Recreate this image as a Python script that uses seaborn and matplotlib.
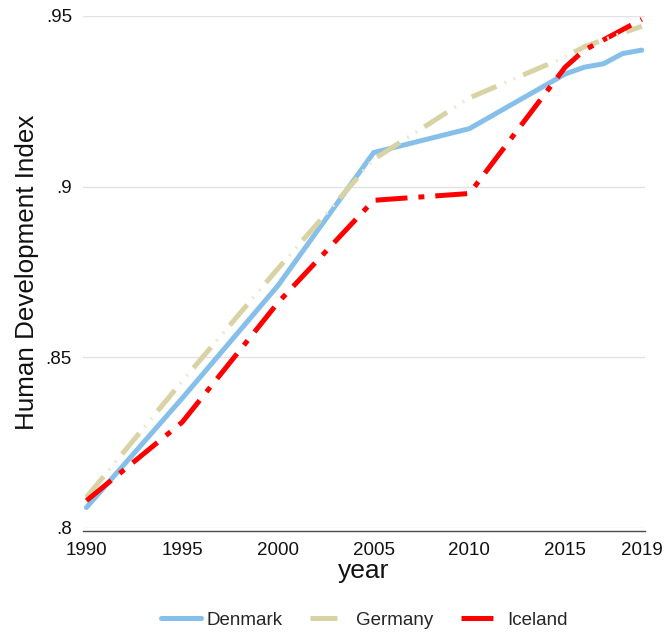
import matplotlib
matplotlib.use("Agg")
import matplotlib.pyplot as plt
import seaborn as sns
import pandas as pd

# ---- data ----
years = [1990, 1995, 2000, 2005, 2010, 2015, 2016, 2017, 2018, 2019]
denmark = [0.806, 0.838, 0.871, 0.910, 0.917, 0.933, 0.935, 0.936, 0.939, 0.940]
germany = [0.809, 0.843, 0.876, 0.908, 0.926, 0.938, 0.941, 0.943, 0.945, 0.947]
iceland = [0.808, 0.831, 0.866, 0.896, 0.898, 0.935, 0.940, 0.943, 0.946, 0.949]
countries = ["Denmark", "Germany", "Iceland"]
yticks = [0.80, 0.85, 0.90, 0.95]
ytick_labels = [".8", ".85", ".9", ".95"]
xticks = [1990, 1995, 2000, 2005, 2010, 2015, 2019]

df = pd.DataFrame({
    "year": years * 3,
    "hdi": denmark + germany + iceland,
    "country": [c for c in countries for _ in years],
})

sns.set_style("white")
plt.rcParams["font.family"] = ["Liberation Sans", "DejaVu Sans"]
plt.rcParams["lines.scale_dashes"] = False

palette = {"Denmark": "#86BFE9", "Germany": "#D8D2A5", "Iceland": "#FF0000"}
dashes = {"Denmark": "", "Germany": (19.4, 20.9), "Iceland": (23.0, 7.9, 4.3, 7.9)}

fig = plt.figure(figsize=(6.64, 6.32), dpi=100)
ax = fig.add_axes([83 / 664, 1 - 528 / 632, (645 - 83) / 664, (528 - 16) / 632])

sns.lineplot(data=df, x="year", y="hdi", hue="country", style="country",
             palette=palette, dashes=dashes, hue_order=countries,
             style_order=countries, linewidth=3.6, legend=False, ax=ax)

# faint dots between Germany's dashes
ax.plot(years, germany, color="#ECE9D6", lw=2.6,
        linestyle=(15.1, (1.44, 5.76, 1.44, 31.7)), zorder=2.05)
for ln in ax.get_lines():
    ln.set_clip_on(False)

ax.set_xlim(1989.82, 2019.17)
ax.set_ylim(0.80, 0.95)
ax.set_xticks(xticks)
ax.set_xticklabels([str(x) for x in xticks])
ax.set_yticks(yticks)
ax.set_yticklabels(ytick_labels)

ax.grid(axis="y", color="#E2E2E2", lw=1.0)
ax.grid(axis="x", visible=False)
ax.set_axisbelow(True)
for s in ["left", "top", "right"]:
    ax.spines[s].set_visible(False)
ax.spines["bottom"].set_color("#4A4A4A")
ax.spines["bottom"].set_linewidth(1.0)
ax.spines["bottom"].set_position(("outward", 2))

ax.tick_params(axis="x", direction="in", length=6, width=1.0, color="#4A4A4A",
               labelsize=13.5, pad=8, labelcolor="#111111")
ax.tick_params(axis="y", length=0, labelsize=13.5, pad=8, labelcolor="#111111")

ax.set_xlabel("year", fontsize=19, labelpad=0, color="#111111")
ax.set_ylabel("Human Development Index", fontsize=18.7, labelpad=5, color="#111111")

handles = ax.get_lines()[:3]
fig.legend(handles, countries, loc="center", bbox_to_anchor=(364 / 664, 1 - 620 / 632),
           ncol=3, frameon=False, fontsize=13.5, handlelength=2.13,
           handletextpad=0.3, columnspacing=1.5)

fig.savefig("out.png", dpi=100)
